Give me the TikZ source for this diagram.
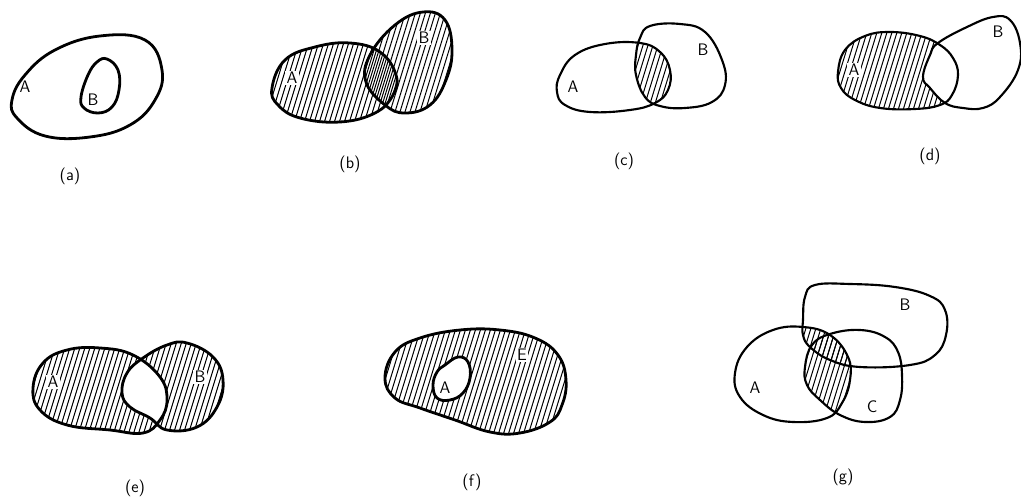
\documentclass[tikz,border=0pt]{standalone}
\begin{document}
\begin{tikzpicture}[x=0.75pt,y=-0.75pt,
  outline/.style={line width=2.1pt, line join=round},
  thinline/.style={line width=1.6pt, line join=round},
  hatchline/.style={line width=0.75pt},
  lbl/.style={font=\sffamily\fontsize{12.5}{14}\selectfont, inner sep=1pt},
  caption/.style={font=\sffamily\fontsize{12.5}{14}\selectfont, inner sep=0pt}]
\useasboundingbox (0,0) rectangle (1021,502);
\newcommand\hatchrange[3]{\foreach \i in {#1,...,#2}{\draw[hatchline] (5*\i+#3,510) -- (5*\i+#3+160,-10);}}
% shapes
\def\ShAa{plot[smooth cycle, tension=0.7] coordinates {(12,100) (25,75) (55,50) (100,36) (145,40) (162,70) (155,100) (130,125) (90,137) (45,136) (17,118)}}
\def\ShAb{plot[smooth cycle, tension=0.7] coordinates {(107,59) (118,70) (119,90) (112,107) (98,113) (84,108) (81,97) (88,75) (97,62)}}
\def\ShBa{plot[smooth cycle, tension=0.7] coordinates {(272,88) (285,60) (315,47) (350,43) (380,52) (396,75) (393,95) (375,113) (340,122) (300,118) (278,105)}}
\def\ShBb{plot[smooth cycle, tension=0.7] coordinates {(423,12) (445,20) (452,50) (446,80) (430,105) (405,113) (385,105) (366,82) (370,55) (395,25)}}
\def\ShCa{plot[smooth cycle, tension=0.7] coordinates {(557,92) (560,75) (575,55) (605,44) (640,43) (660,52) (670,70) (668,90) (655,103) (630,110) (590,112) (565,105)}}
\def\ShCb{plot[smooth cycle, tension=0.7] coordinates {(636,55) (640,38) (650,26) (680,24) (705,32) (722,60) (725,85) (712,102) (685,108) (660,106) (645,97) (636,75)}}
\def\ShDa{plot[smooth cycle, tension=0.7] coordinates {(838,72) (845,50) (865,36) (890,32) (920,36) (940,45) (953,58) (958,75) (952,95) (940,105) (915,109) (880,108) (855,100) (841,88)}}
\def\ShDb{plot[smooth cycle, tension=0.7] coordinates {(923,77) (930,55) (938,43) (967,27) (993,17) (1010,20) (1020,43) (1018,70) (1000,97) (983,108) (963,108) (945,103) (930,88)}}
\def\ShEa{plot[smooth cycle, tension=0.7] coordinates {(33,388) (43,363) (67,350) (100,348) (133,355) (160,377) (167,400) (160,420) (143,433) (110,430) (67,425) (40,410)}}
\def\ShEb{plot[smooth cycle, tension=0.7] coordinates {(122,393) (127,373) (143,358) (167,345) (187,343) (213,357) (223,380) (217,407) (197,427) (167,430) (150,418) (130,407)}}
\def\ShFe{plot[smooth cycle, tension=0.7] coordinates {(385,378) (395,352) (420,338) (460,330) (500,330) (535,338) (558,355) (566,380) (562,405) (550,422) (520,433) (490,432) (455,420) (420,408) (395,398)}}
\def\ShFa{plot[smooth cycle, tension=0.7] coordinates {(445,365) (458,357) (468,362) (470,378) (463,393) (450,400) (437,398) (433,385) (437,372)}}
\def\ShGa{plot[smooth cycle, tension=0.7] coordinates {(735,373) (747,347) (773,330) (803,327) (830,335) (848,357) (850,380) (842,403) (827,418) (793,422) (763,415) (740,397)}}
\def\ShGb{plot[smooth cycle, tension=0.7] coordinates {(803,320) (805,297) (815,285) (850,284) (895,287) (930,296) (945,310) (946,335) (935,355) (910,365) (860,367) (830,360) (810,347) (803,335)}}
\def\ShGc{plot[smooth cycle, tension=0.7] coordinates {(805,367) (812,345) (830,334) (860,330) (885,337) (898,352) (902,375) (900,400) (890,417) (865,422) (840,415) (820,400) (807,385)}}

% (a)
\draw[outline] \ShAa;
\draw[outline] \ShAb;
\node[lbl] (aA) at (25,87) {A};
\node[lbl] (aB) at (93,100) {B};
\node[caption] (capa) at (70,176) {(a)};

% (b)
\begin{scope}\clip \ShBa; \hatchrange{20}{80}{0}\end{scope}
\begin{scope}\clip \ShBb; \hatchrange{40}{91}{2.5}\end{scope}
\draw[outline] \ShBa;
\draw[outline] \ShBb;
\node[lbl,fill=white] (bA) at (292,78) {A};
\node[lbl,fill=white] (bB) at (424,38) {B};
\node[caption] (capb) at (350,164) {(b)};

% (c)
\begin{scope}\clip \ShCa; \clip \ShCb; \hatchrange{94}{136}{0}\end{scope}
\draw[thinline] \ShCa;
\draw[thinline] \ShCb;
\node[lbl] (cA) at (573,87) {A};
\node[lbl] (cB) at (703,50) {B};
\node[caption] (capc) at (624,161) {(c)};

% (d)
\begin{scope}\clip \ShDa; \hatchrange{134}{193}{0}\end{scope}
\fill[white] \ShDb;
\draw[thinline] \ShDa;
\draw[thinline] \ShDb;
\node[lbl,fill=white] (dA) at (854,70) {A};
\node[lbl] (dB) at (998,32) {B};
\node[caption] (capd) at (930,156) {(d)};

% (e)
\begin{scope}\clip \ShEa; \hatchrange{-28}{35}{0}\end{scope}
\begin{scope}\clip \ShEb; \hatchrange{-10}{46}{0}\end{scope}
\begin{scope}\clip \ShEa; \fill[white] \ShEb;\end{scope}
\draw[outline] \ShEa;
\draw[outline] \ShEb;
\node[lbl,fill=white] (eA) at (53,382) {A};
\node[lbl,fill=white] (eB) at (200,377) {B};
\node[caption] (cape) at (135,488) {(e)};

% (f)
\begin{scope}\clip \ShFe; \hatchrange{43}{114}{0}\end{scope}
\fill[white] \ShFa;
\draw[outline] \ShFe;
\draw[outline] \ShFa;
\node[lbl] (fA) at (445,388) {A};
\node[lbl,fill=white] (fE) at (522,355) {E};
\node[caption] (capf) at (472,482) {(f)};

% (g)
\begin{scope}\clip \ShGa; \clip \ShGb; \hatchrange{127}{182}{0}\end{scope}
\begin{scope}\clip \ShGa; \clip \ShGc; \hatchrange{127}{182}{0}\end{scope}
\draw[thinline] \ShGa;
\draw[thinline] \ShGb;
\draw[thinline] \ShGc;
\node[lbl] (gA) at (755,388) {A};
\node[lbl] (gB) at (905,305) {B};
\node[lbl] (gC) at (872,407) {C};
\node[caption] (capg) at (843,477) {(g)};
\end{tikzpicture}
\end{document}
